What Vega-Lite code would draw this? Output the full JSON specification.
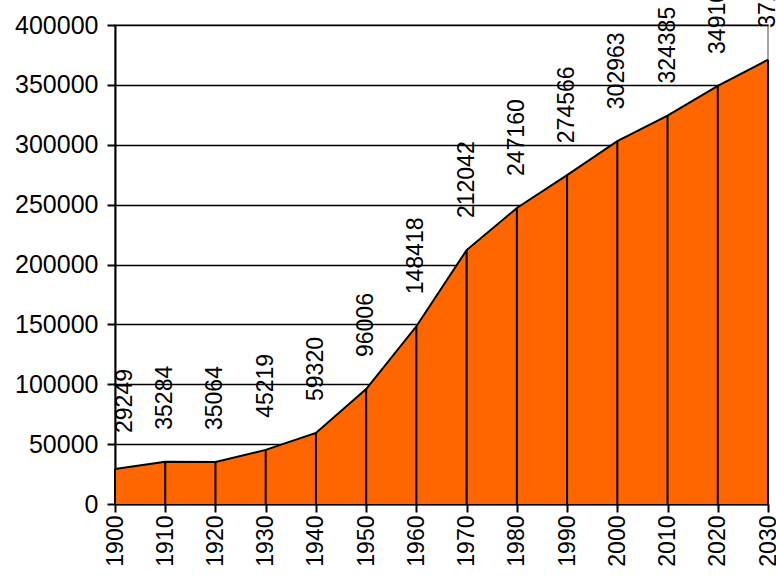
{
  "$schema": "https://vega.github.io/schema/vega-lite/v6.json",
  "width": 653,
  "height": 479,
  "autosize": {"type": "none"},
  "padding": {"left": 115, "top": 25, "right": 8, "bottom": 73},
  "background": "white",
  "config": {
    "font": "Liberation Sans",
    "view": {"stroke": "#888888", "strokeWidth": 1.5}
  },
  "data": {
    "values": [
      {"year": 1900, "pop": 29249},
      {"year": 1910, "pop": 35284},
      {"year": 1920, "pop": 35064},
      {"year": 1930, "pop": 45219},
      {"year": 1940, "pop": 59320},
      {"year": 1950, "pop": 96006},
      {"year": 1960, "pop": 148418},
      {"year": 1970, "pop": 212042},
      {"year": 1980, "pop": 247160},
      {"year": 1990, "pop": 274566},
      {"year": 2000, "pop": 302963},
      {"year": 2010, "pop": 324385},
      {"year": 2020, "pop": 349107},
      {"year": 2030, "pop": 371000}
    ]
  },
  "encoding": {
    "x": {
      "field": "year",
      "type": "quantitative",
      "scale": {"domain": [1900, 2030], "nice": false, "zero": false},
      "axis": {
        "title": null,
        "values": [1900, 1910, 1920, 1930, 1940, 1950, 1960, 1970, 1980, 1990, 2000, 2010, 2020, 2030],
        "format": "d",
        "labelAngle": -90,
        "labelFontSize": 23,
        "labelColor": "black",
        "labelPadding": 3,
        "grid": false,
        "domainColor": "black",
        "domainWidth": 2,
        "tickColor": "black",
        "tickWidth": 2,
        "tickSize": 8
      }
    },
    "y": {
      "field": "pop",
      "type": "quantitative",
      "scale": {"domain": [0, 400000], "nice": false},
      "axis": {
        "title": null,
        "values": [0, 50000, 100000, 150000, 200000, 250000, 300000, 350000, 400000],
        "format": "d",
        "labelFontSize": 25,
        "labelColor": "black",
        "labelPadding": 9,
        "grid": true,
        "gridColor": "black",
        "gridWidth": 1.5,
        "gridOpacity": 1,
        "domainColor": "black",
        "domainWidth": 2,
        "tickColor": "black",
        "tickWidth": 2,
        "tickSize": 8
      }
    }
  },
  "layer": [
    {
      "mark": {"type": "area", "color": "#FF6600", "line": {"color": "black", "strokeWidth": 2}, "opacity": 1}
    },
    {
      "mark": {"type": "rule", "color": "black", "strokeWidth": 2},
      "encoding": {"y": {"datum": 0}, "y2": {"field": "pop"}}
    },
    {
      "transform": [{"filter": "datum.year > 1900"}],
      "mark": {"type": "text", "angle": 270, "align": "left", "baseline": "middle", "dx": 32, "fontSize": 23, "color": "black"},
      "encoding": {"text": {"field": "pop", "type": "quantitative", "format": "d"}}
    },
    {
      "transform": [{"filter": "datum.year == 1900"}],
      "mark": {"type": "text", "angle": 270, "align": "left", "baseline": "middle", "dx": 36, "dy": 10, "fontSize": 23, "color": "black"},
      "encoding": {"text": {"field": "pop", "type": "quantitative", "format": "d"}}
    }
  ]
}
